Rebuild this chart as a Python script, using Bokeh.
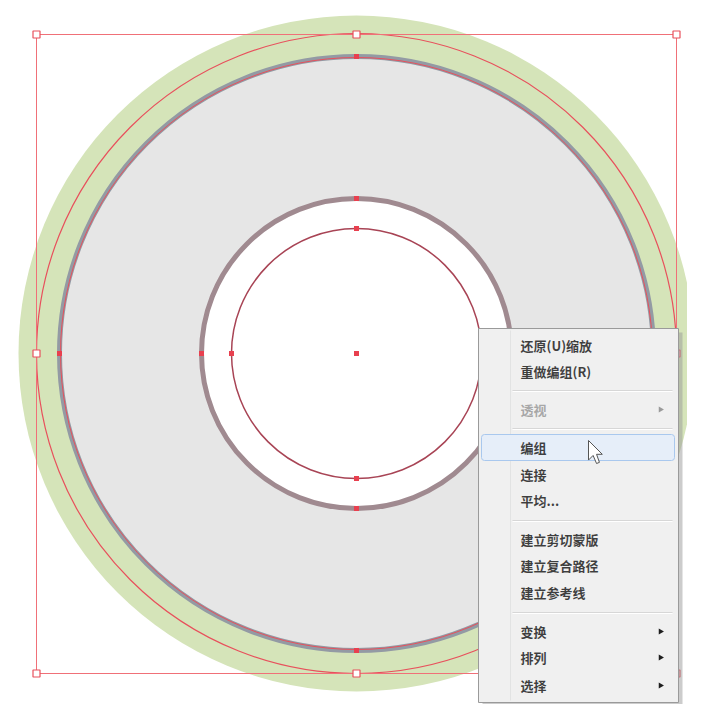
from bokeh.plotting import figure
from bokeh.models import Range1d
from bokeh.core.properties import value
from bokeh.embed import file_html
from bokeh.resources import INLINE

# ---- data (screen-pixel coordinates of the reference) ----
center = (356, 353)
ring_green_r = 338
guide_red_r = 320
disk_gray_r = 297
hole_r = 155
inner_red_r = 125
bbox = (36, 34, 676, 673)  # left, top, right, bottom

menu_items = ["还原(U)缩放", "重做编组(R)", "透视", "编组", "连接", "平均...",
              "建立剪切蒙版", "建立复合路径", "建立参考线", "变换", "排列", "选择"]
menu_y = [345, 371, 409, 447, 474, 500, 539, 565, 592, 631, 657, 685]
menu_disabled = [False, False, True, False, False, False, False, False, False, False, False, False]
menu_submenu = [False, False, True, False, False, False, False, False, False, True, True, True]
separator_y = [390, 428, 520, 612]
menu_box = (478, 328, 678, 702)
highlight_y = (434, 460)

cursor_x = [0, 0, 4, 7, 9.5, 7, 12]
cursor_y = [0, 17, 13, 20, 19, 12, 12]
cursor_tip = (588, 440)

W, H = 687, 704
p = figure(width=W, height=H, x_range=Range1d(0, W), y_range=Range1d(H, 0),
           output_backend="svg", toolbar_location=None, min_border=0)
p.axis.visible = False
p.grid.visible = False
p.outline_line_color = None
p.background_fill_color = "white"
p.border_fill_color = "white"

cx, cy = center
# green outer ring
p.circle([cx], [cy], radius=ring_green_r, fill_color="#d5e4b9", line_color=None)
# red guide circle
p.circle([cx], [cy], radius=guide_red_r, fill_color=None, line_color="#e8505c", line_width=1.2)
# gray disk
p.circle([cx], [cy], radius=disk_gray_r, fill_color="#e6e6e6", line_color="#939aa4", line_width=5)
p.circle([cx], [cy], radius=disk_gray_r - 1, fill_color=None, line_color="#e8505c", line_width=1)
# hole
p.circle([cx], [cy], radius=hole_r, fill_color="white", line_color="#a08a90", line_width=5)
p.circle([cx], [cy], radius=inner_red_r, fill_color=None, line_color="#a84455", line_width=1.5)

# bounding box
l, t, r, b = bbox
p.line([l, r, r, l, l], [t, t, b, b, t], line_color="#f07078", line_width=1)
hx = [l, cx, r, l, r, l, cx, r]
hy = [t, t, t, cy, cy, b, b, b]
p.scatter(hx, hy, marker="square", size=7, fill_color="white", line_color="#e8505c", line_width=1.2)

# anchor points
ax_, ay_ = [], []
for rad in (disk_gray_r, hole_r, inner_red_r):
    ax_ += [cx, cx, cx - rad, cx + rad]
    ay_ += [cy - rad, cy + rad, cy, cy]
ax_.append(cx); ay_.append(cy)
p.scatter(ax_, ay_, marker="square", size=5, fill_color="#e8404f", line_color=None)

# context menu
ml, mt, mr, mb = menu_box
p.quad(left=[ml + 4], right=[mr + 4], top=[mt + 4], bottom=[mb + 4], fill_color="#9a9a9a",
       fill_alpha=0.5, line_color=None)
p.quad(left=[ml], right=[mr], top=[mt], bottom=[mb], fill_color="#f0f0f0", line_color="#9a9a9a", line_width=1)
p.line([510, 510], [mt + 2, mb - 2], line_color="#e2e3e3", line_width=1)
p.quad(left=[ml + 3], right=[mr - 4], top=[highlight_y[0]], bottom=[highlight_y[1]],
       fill_color="#e6eef9", line_color="#a9c8ee", line_width=1, border_radius=3)
for sy in separator_y:
    p.line([512, mr - 6], [sy, sy], line_color="#d7d7d7", line_width=1)
    p.line([512, mr - 6], [sy + 1, sy + 1], line_color="#ffffff", line_width=1)

colors = ["#9a9a9a" if d else "#1e1e1e" for d in menu_disabled]
p.text(x=[520] * len(menu_items), y=menu_y, text=menu_items, text_color=colors,
       text_font=value("Noto Sans CJK SC"), text_font_size="13px", text_font_style="bold",
       text_baseline="middle", text_alpha=0.85)
sx = [660 for s in menu_submenu if s]
sy_ = [y for y, s in zip(menu_y, menu_submenu) if s]
scol = ["#9a9a9a" if d else "#1e1e1e" for d, s in zip(menu_disabled, menu_submenu) if s]
p.scatter(sx, sy_, marker="triangle", angle=-1.5708, size=6, fill_color=scol, line_color=None)

# mouse cursor
tx, tyy = cursor_tip
p.patch([tx + v * 1.15 for v in cursor_x], [tyy + v * 1.15 for v in cursor_y],
        fill_color="white", line_color="#555555", line_width=1)

open("out.html", "w").write(file_html(p, INLINE))
